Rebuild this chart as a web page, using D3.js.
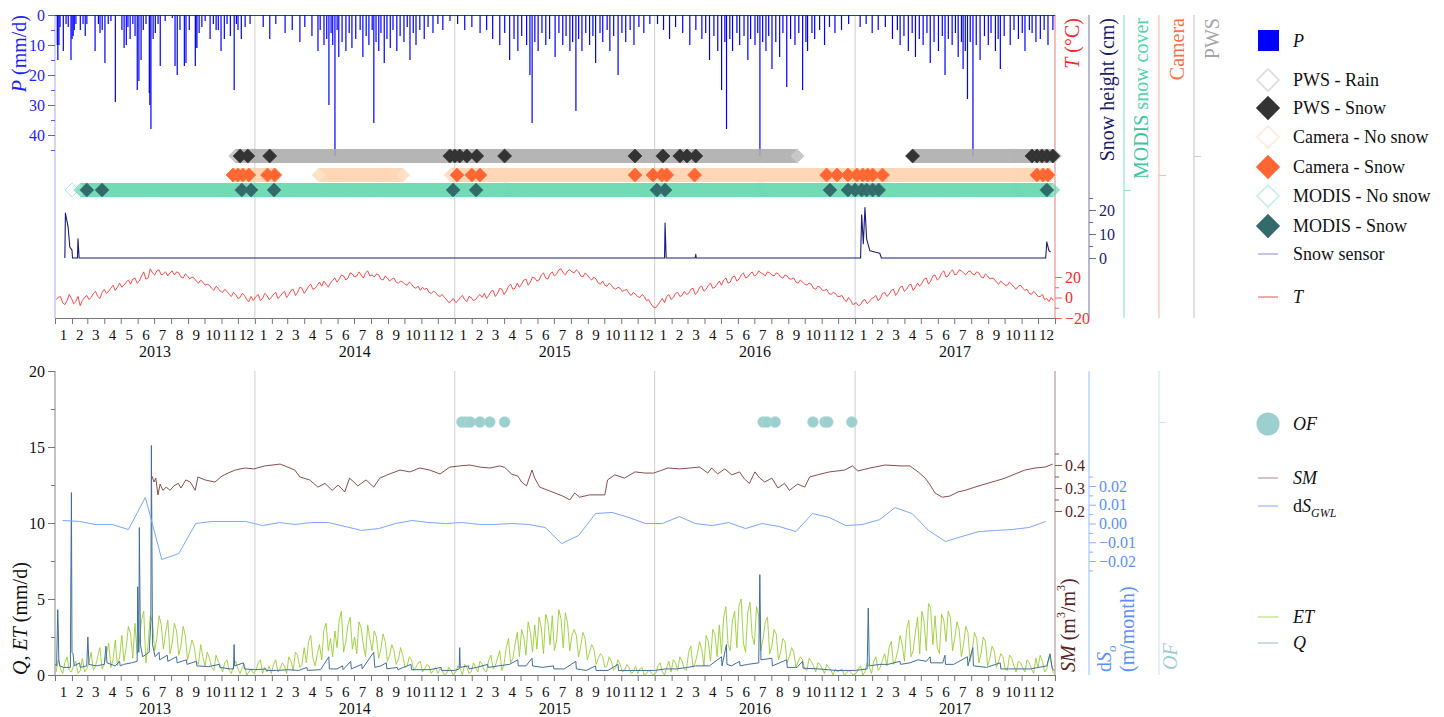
<!DOCTYPE html>
<html>
<head>
<meta charset="utf-8">
<script src="https://cdn.jsdelivr.net/npm/d3@7"></script>
<style>
  body { margin: 0; background: #fff; }
  svg text { font-family: "Liberation Serif", "DejaVu Serif", serif; }
</style>
</head>
<body>
<div id="chart"></div>
<script>
// ---------- data ----------
var years = [2013, 2014, 2015, 2016, 2017];
var FONT = '"Liberation Serif", "DejaVu Serif", serif';

// daily precipitation events, [day of year, mm]
var precip2013 = [[4,10],[5,15],[7,10],[9,4],[15,12],[20,3],[24,4],[29,15],[31,8],[33,7],[35,5],[38,3],[46,5],[51,3],[55,7],[58,3],[73,12],[79,3],[82,6],[86,5],[91,16],[97,3],[102,2],[110,29],[122,5],[126,11],[130,10],[133,4],[137,8],[142,3],[146,7],[150,25],[153,22],[157,15],[161,5],[166,3],[172,26],[173,30],[175,38],[179,8],[183,6],[188,3],[192,17],[201,2],[214,1],[219,17],[223,20],[228,5],[236,17],[239,16],[245,5],[256,17],[257,11],[259,11],[263,6],[268,4],[274,2],[283,8],[289,3],[294,5],[298,5],[303,12],[309,8],[314,3],[320,7],[327,25],[331,3],[334,5],[340,8],[347,4],[356,3]];
var precip2014 = [[15,4],[27,8],[38,3],[55,6],[68,5],[82,9],[91,4],[104,7],[115,12],[119,5],[126,10],[131,8],[135,30],[139,6],[142,10],[146,47],[150,5],[153,14],[159,9],[166,12],[172,6],[177,11],[184,8],[192,5],[197,14],[203,7],[208,10],[214,5],[217,36],[221,9],[226,12],[230,6],[236,16],[241,8],[247,11],[252,5],[259,12],[265,7],[272,9],[278,4],[283,15],[289,6],[294,10],[301,5],[309,8],[316,4],[325,6],[334,3],[343,5],[356,2]];
var precip2015 = [[5,3],[18,5],[31,4],[46,6],[58,5],[69,8],[82,10],[91,6],[100,15],[108,8],[115,12],[122,7],[131,10],[137,20],[141,36],[146,9],[152,12],[159,6],[166,10],[173,8],[183,14],[190,6],[197,10],[203,7],[210,12],[215,9],[221,32],[226,8],[232,12],[239,6],[246,10],[252,7],[257,16],[265,6],[270,9],[278,5],[283,12],[290,7],[298,20],[305,6],[312,9],[320,5],[327,10],[336,4],[345,6],[356,3]];
var precip2016 = [[5,3],[16,5],[27,8],[38,4],[51,6],[64,10],[75,5],[86,8],[93,6],[100,15],[108,7],[115,12],[122,25],[128,9],[131,38],[137,8],[142,12],[150,6],[155,10],[163,7],[170,15],[175,8],[183,10],[188,6],[192,47],[197,9],[203,12],[208,7],[214,18],[221,9],[228,14],[234,6],[241,24],[248,8],[256,10],[263,6],[270,25],[276,9],[279,12],[287,6],[292,8],[301,5],[310,10],[319,4],[329,6],[341,5],[354,3]];
var precip2017 = [[9,4],[20,3],[31,6],[42,5],[55,4],[68,8],[77,5],[82,10],[89,7],[97,12],[104,6],[110,14],[117,8],[124,10],[131,6],[137,16],[144,9],[152,12],[159,7],[164,20],[170,8],[177,10],[183,6],[188,14],[194,9],[197,18],[201,12],[205,28],[210,9],[215,47],[221,10],[228,15],[236,7],[243,10],[248,6],[256,12],[261,8],[265,18],[272,7],[283,10],[290,5],[298,8],[305,6],[310,12],[318,5],[323,6],[330,9],[338,8],[345,5],[352,10],[361,5]];

// air temperature (deg C), one value per 4 days from 3 January
var temp2013 = [-2,0,1,-5,-7,-3,3,-1, -6,-4,1,-8,-3,0,2, -2,0,4,6,1,-1,5,8, 4,6,9,12,7,10,14, 10,12,15,17,13,18,19,14, 16,21,25,18,19,28,24,22, 26,27,22,23,25,21,24,26, 22,25,24,20,19,23,21,18, 20,19,16,14,17,15,12, 13,12,9,7,11,9,6,5, 8,6,3,1,5,3,-1, 0,4,2,-2,-4,1,-3];
var temp2014 = [1,3,-3,-1,4,2,-2,0, 3,5,-1,1,4,6,0, 3,7,8,2,5,10,9,4, 7,11,13,8,9,12,15, 11,16,13,10,14,17,19,15, 18,22,21,17,19,24,23,20, 21,25,22,19,24,26,21,22, 20,23,22,18,17,21,19,16, 18,19,15,14,16,15,13, 12,15,13,10,9,11,7,10, 8,9,5,4,6,5,2, 1,3,0,-2,-5,-4,-1];
var temp2015 = [-5,-3,0,2,-2,-4,1,0, -3,-2,1,3,0,4,-1, 2,6,7,1,4,9,8,3, 6,11,13,8,9,14,10, 13,17,18,12,15,20,19,16, 17,22,24,19,18,23,25,21, 23,27,28,24,22,26,27,25, 24,27,25,21,20,24,22,19, 17,20,18,14,13,16,12, 11,14,12,9,8,10,9,6, 7,8,4,2,5,3,1, 0,3,1,-3,-2,-6,-9];
var temp2016 = [-10,-7,-4,-1,-5,1,3,-2, 0,4,5,1,2,6,3, 4,8,9,3,5,10,11,6, 8,12,14,9,10,13,16, 12,17,19,14,15,20,21,16, 18,22,24,19,20,23,25,21, 22,26,24,23,21,25,24,22, 21,24,23,20,19,22,21,18, 18,19,15,14,17,15,13, 12,14,13,9,8,11,10,7, 7,8,4,3,5,4,1, 1,2,-2,-4,0,-3,-7];
var temp2017 = [-5,-8,-7,-3,-2,-6,-4,-1, 0,2,-3,-1,4,5,1, 3,7,8,2,5,10,11,6, 8,12,13,7,10,14,11, 14,18,19,13,16,21,22,17, 19,24,26,20,21,25,27,22, 23,27,26,24,22,25,26,23, 22,25,24,20,19,23,21,18, 19,18,15,13,16,14,12, 12,15,13,10,8,11,12,9, 7,8,4,3,6,4,1, 1,3,-2,-1,-4,0,-3];

// snow sensor height (cm)
var snowSensor = [["2013-01-19",0],["2013-01-20",18.7],["2013-01-25",12.9],["2013-01-28",4.6],["2013-02-01",3.3],["2013-02-02",0],["2013-02-11",0],["2013-02-12",8],["2013-02-14",0],["2013-02-15",0],
  ["2016-01-19",0],["2016-01-20",14.6],["2016-01-22",0],["2016-03-15",0],["2016-03-16",1.5],["2016-03-17",0],
  ["2017-01-11",0],["2017-01-13",18],["2017-01-16",6],["2017-01-19",21],["2017-01-22",8],["2017-01-28",3],["2017-02-15",2],["2017-02-18",0],
  ["2017-12-15",0],["2017-12-17",6.7],["2017-12-21",3],["2017-12-24",2.5]];

// observation periods and snow days per source
var pwsPeriods = [["2013-11-27","2016-09-17"],["2017-04-16","2017-12-31"]];
var pwsSnow = ["2013-12-05","2013-12-19","2014-01-28","2014-12-23","2015-01-01","2015-01-10","2015-01-23","2015-02-10","2015-04-02","2015-11-26","2016-01-16","2016-02-16","2016-02-29","2016-03-16","2017-04-16","2017-11-20","2017-11-29","2017-12-08","2017-12-17","2017-12-28"];
var cameraPeriods = [["2013-11-22","2014-02-08"],["2014-04-28","2014-09-28"],["2014-12-25","2017-12-23"]];
var cameraSnow = ["2013-11-22","2013-12-01","2013-12-10","2013-12-21","2014-01-24","2014-02-06","2015-01-05","2015-02-01","2015-02-16","2015-11-26","2015-12-29","2016-01-14","2016-01-23","2016-03-14","2016-11-10","2016-11-29","2016-12-19","2017-01-04","2017-01-15","2017-01-24","2017-02-02","2017-02-20","2017-11-29","2017-12-10","2017-12-19"];
var modisPeriods = [["2013-02-01","2013-02-01"],["2013-02-17","2017-12-28"]];
var modisSnow = ["2013-02-28","2013-03-28","2013-12-08","2013-12-25","2014-02-05","2014-12-29","2015-02-09","2016-01-05","2016-01-20","2016-11-16","2016-12-19","2017-01-01","2017-01-13","2017-01-22","2017-02-02","2017-02-13","2017-12-17"];

// evapotranspiration (mm/d), one value per 4 days from 3 January
var et2013 = [0.2,1.0,0.4,0.1,0.8,1.2,0.3,0.2, 0.6,0.9,0.1,0.3,1.1,0.2,0.4, 0.8,1.5,0.3,0.6,1.2,1.8,0.4,0.7, 1.4,2.1,0.5,1.0,2.3,0.6,1.2, 2.6,0.9,1.8,3.2,2.7,1.1,3.4,1.4, 2.2,3.6,4.2,0.8,2.0,3.9,3.5,1.6, 2.4,3.9,3.3,1.7,2.8,3.6,1.4,2.1, 3.4,2.9,1.3,1.9,3.2,2.6,1.0,1.6, 2.3,1.9,0.9,0.7,2.0,1.2,0.6, 1.5,1.1,0.5,0.3,1.3,0.9,0.6,0.2, 0.8,1.0,0.3,0.1,0.6,0.9,0.4, 0.1,0.5,0.7,0.0,0.2,0.4,0.1];
var et2014 = [0.3,0.8,1.0,0.1,0.5,0.2,0.6,0.1, 0.7,1.0,0.2,0.4,0.8,0.6,0.1, 1.2,0.9,0.3,1.5,1.3,0.5,0.7,1.8, 0.8,2.2,2.6,1.1,0.6,1.4,2.0, 1.0,3.0,3.4,1.6,2.4,1.2,2.9,1.8, 3.6,4.2,1.5,2.2,3.3,3.8,1.7,2.5, 1.4,3.5,3.1,2.0,1.2,3.3,2.4,1.6, 2.9,2.5,1.1,1.7,2.7,2.2,0.9,1.3, 2.0,1.6,0.7,1.0,1.8,1.3,0.5, 0.6,1.2,1.0,0.3,0.5,0.8,0.9,0.2, 0.4,0.7,0.6,0.1,0.3,0.5,0.1, 0.4,0.3,0.0,0.1,0.5,0.3,0.0];
var et2015 = [0.2,0.6,0.4,0.0,0.7,0.5,0.1,0.2, 0.8,0.5,0.2,0.9,0.7,0.3,0.2, 1.0,1.3,0.4,0.6,1.1,1.6,0.3,0.7, 1.8,2.4,0.8,1.1,2.0,2.8,1.2, 3.0,2.5,1.3,3.5,2.8,1.5,3.3,1.7, 3.8,3.1,1.4,4.0,3.5,2.0,3.9,1.6, 2.3,4.3,3.7,1.8,4.1,3.4,1.6,2.6, 3.0,2.6,1.2,1.9,2.8,2.4,1.0,1.5, 2.0,1.7,0.7,1.1,1.4,1.2,0.5, 0.6,1.2,0.9,0.3,0.5,1.0,0.7,0.2, 0.3,0.7,0.5,0.1,0.2,0.6,0.1, 0.4,0.5,0.0,0.1,0.3,0.2,0.0];
var et2016 = [0.1,0.6,0.8,0.2,0.0,0.5,0.9,0.2, 1.0,0.8,0.3,1.2,0.9,0.4,0.3, 1.5,1.9,0.5,0.8,1.4,2.2,1.7,0.6, 2.6,2.2,0.9,3.0,2.7,1.2,3.3, 1.4,3.8,4.5,2.0,1.6,3.6,4.2,1.8, 4.6,5.0,2.1,1.5,4.1,4.8,2.6,2.0, 4.5,3.9,1.6,2.4,3.5,3.8,1.4,1.9, 3.0,2.7,1.0,1.5,2.4,2.2,0.8,1.2, 1.8,1.5,0.5,0.9,1.2,1.0,0.4, 0.3,1.1,0.9,0.6,0.2,0.8,0.7,0.4, 0.1,0.7,0.5,0.3,0.0,0.4,0.2, 0.3,0.4,0.0,0.1,0.3,0.2,0.0];
var et2017 = [0.1,0.4,0.6,0.0,0.2,0.8,0.5,0.1, 0.9,1.2,0.3,0.5,1.0,1.4,0.6, 1.8,2.2,0.7,1.0,1.6,2.6,2.0,0.9, 3.0,3.6,1.2,1.6,2.8,3.8,1.4, 4.2,3.5,1.6,4.7,4.4,2.0,3.9,1.8, 1.4,4.0,3.6,2.2,4.2,3.8,1.6,2.4, 3.5,3.0,1.2,2.0,3.2,2.8,0.9,1.6, 2.8,2.4,0.8,1.4,2.5,2.2,0.6,1.1, 1.9,1.6,0.5,0.9,1.4,1.2,0.4, 0.3,1.3,1.1,0.6,0.2,0.9,0.8,0.5, 0.2,1.0,0.8,0.4,0.1,1.1,0.5, 1.3,0.9,0.2,0.4,1.2,0.8,0.1];

// discharge (mm/d), [day of year, value]
var q2013 = [[0,0.7],[3,0.6],[5,4.3],[6,3.0],[7,1.0],[9,0.6],[15,0.5],[28,0.5],[30,12.0],[31,1.5],[33,1.4],[35,0.6],[45,0.8],[46,0.5],[58,0.6],[60,2.5],[62,0.7],[75,0.6],[90,0.7],[93,1.9],[95,0.8],[110,0.6],[118,0.9],[119,0.6],[125,0.7],[140,0.8],[150,0.9],[151,5.8],[153,1.5],[154,9.7],[156,2.0],[160,1.2],[172,1.5],[175,3.5],[176,15.1],[178,2.0],[183,1.2],[190,1.5],[191,1.0],[205,1.3],[206,0.9],[222,1.2],[223,0.8],[240,1.0],[241,0.7],[258,0.9],[259,0.6],[280,0.55],[300,0.7],[301,0.5],[320,0.4],[326,0.4],[327,2.0],[328,0.6],[344,0.8],[346,0.4],[364,0.35]];
var q2014 = [[0,0.35],[20,0.4],[21,0.3],[40,0.3],[60,0.35],[80,0.3],[95,0.5],[96,0.3],[120,0.35],[135,1.2],[136,0.4],[150,0.4],[160,0.6],[161,0.35],[175,0.9],[176,0.4],[195,0.7],[196,0.4],[217,1.5],[219,0.5],[230,0.6],[240,0.8],[241,0.4],[260,0.5],[261,0.35],[285,0.7],[286,0.35],[320,0.35],[340,0.5],[341,0.3],[364,0.3]];
var q2015 = [[0,0.3],[8,0.4],[9,1.8],[10,0.5],[25,0.6],[26,0.4],[40,0.5],[60,0.7],[61,0.5],[80,0.6],[100,0.7],[115,1.0],[116,0.6],[130,0.6],[141,1.1],[142,0.6],[160,0.5],[180,0.6],[181,0.4],[200,0.4],[221,0.9],[222,0.4],[240,0.3],[257,0.6],[258,0.3],[280,0.3],[298,0.7],[299,0.3],[320,0.3],[364,0.3]];
var q2016 = [[0,0.3],[20,0.4],[40,0.4],[60,0.5],[75,0.6],[100,0.6],[122,1.2],[123,0.6],[131,2.0],[132,0.7],[140,0.6],[155,0.9],[156,0.6],[170,0.7],[190,0.8],[192,6.6],[194,1.0],[214,1.1],[215,0.6],[241,1.0],[242,0.5],[260,0.5],[270,0.9],[271,0.45],[300,0.4],[330,0.3],[365,0.3]];
var q2017 = [[0,0.3],[22,0.4],[24,4.4],[26,0.6],[45,0.7],[60,0.7],[82,0.9],[83,0.7],[100,0.8],[115,1.0],[130,0.9],[137,1.2],[138,0.8],[160,0.8],[164,1.3],[165,0.7],[180,0.7],[205,1.2],[206,0.6],[215,1.8],[216,0.6],[240,0.5],[265,0.8],[266,0.4],[280,0.4],[320,0.4],[350,0.6],[356,1.4],[360,0.4],[364,0.3]];

// soil moisture (m3/m3), [day of year, value]
var sm2013 = [[177,0.352],[181,0.326],[184,0.343],[188,0.27],[192,0.317],[197,0.29],[203,0.304],[210,0.29],[217,0.309],[225,0.32],[230,0.30],[239,0.335],[247,0.326],[256,0.29],[261,0.348],[274,0.335],[292,0.326],[305,0.352],[316,0.365],[329,0.378],[347,0.387],[363,0.383]];
var sm2014 = [[18,0.396],[46,0.404],[73,0.378],[82,0.348],[100,0.335],[115,0.304],[128,0.32],[141,0.29],[152,0.313],[164,0.283],[173,0.343],[188,0.309],[203,0.335],[217,0.304],[228,0.343],[246,0.361],[265,0.378],[283,0.37],[301,0.387],[319,0.378],[338,0.361],[356,0.391]];
var sm2015 = [[9,0.396],[27,0.4],[46,0.391],[64,0.387],[82,0.396],[91,0.39],[104,0.36],[115,0.352],[122,0.326],[131,0.309],[141,0.378],[146,0.343],[155,0.304],[170,0.29],[183,0.278],[197,0.265],[210,0.248],[219,0.278],[228,0.26],[246,0.27],[274,0.27],[279,0.335],[292,0.357],[310,0.343],[329,0.37],[347,0.365],[363,0.365]];
var sm2016 = [[9,0.374],[24,0.387],[46,0.383],[64,0.387],[82,0.391],[97,0.365],[104,0.387],[115,0.361],[128,0.383],[141,0.357],[155,0.37],[164,0.339],[173,0.32],[183,0.37],[192,0.343],[201,0.326],[214,0.343],[225,0.30],[237,0.32],[246,0.29],[261,0.317],[274,0.304],[283,0.348],[297,0.357],[319,0.37],[347,0.378],[361,0.396]];
var sm2017 = [[5,0.374],[27,0.387],[55,0.40],[82,0.396],[100,0.396],[115,0.37],[128,0.343],[137,0.313],[146,0.278],[159,0.26],[173,0.265],[188,0.283],[201,0.29],[219,0.304],[237,0.317],[256,0.33],[274,0.343],[292,0.361],[310,0.378],[329,0.387],[347,0.391],[361,0.404]];

// monthly groundwater storage change (m), mid-month, Jan 2013 .. Dec 2017
var dsGwl = [0.0016,0.0011,-0.0005,-0.0005,-0.0032,0.0139,-0.0192,-0.0160,0,0.0011,0.0011,0.0011,
  -0.0011,0.0005,-0.0005,0.0005,0.0005,-0.0016,-0.0037,-0.0027,0,0.0016,0.0005,0,
  0.0005,-0.0005,-0.0005,0,-0.0005,-0.0021,-0.0107,-0.0064,0.0053,0.0059,0.0032,0,
  0,0.0037,0,-0.0011,0.0005,-0.0027,0,-0.0016,-0.0043,0.0053,0.0032,-0.0011,
  -0.0005,0.0021,0.0085,0.0053,-0.0037,-0.0096,-0.0069,-0.0043,-0.0037,-0.0032,-0.0021,0.0011];

// overland flow days
var ofDates = ["2015-01-14","2015-01-21","2015-01-29","2015-02-16","2015-03-06","2015-04-02","2016-07-17","2016-07-24","2016-08-08","2016-10-16","2016-11-07","2016-11-12","2016-12-26"];

// ---------- helpers ----------
var parse = d3.utcParse("%Y-%m-%d");
function dayOf(year, doy) { return new Date(Date.UTC(year, 0, 1) + doy * 864e5); }
function byYear(list, fn) {
  var out = [];
  list.forEach(function(arr, i) { arr.forEach(function(d, j) { out.push(fn(years[i], d, j)); }); });
  return out;
}
function daysIn(periods) {
  var out = [];
  periods.forEach(function(p) { d3.utcDay.range(parse(p[0]), d3.utcDay.offset(parse(p[1]), 1)).forEach(function(d) { out.push(d); }); });
  return out;
}

var precipData = byYear([precip2013, precip2014, precip2015, precip2016, precip2017], function(y, d) { return { date: dayOf(y, d[0]), v: d[1] }; });
var tempData = byYear([temp2013, temp2014, temp2015, temp2016, temp2017], function(y, v, j) { return { date: dayOf(y, j * 4 + 2), v: v }; });
var etData = byYear([et2013, et2014, et2015, et2016, et2017], function(y, v, j) { return { date: dayOf(y, j * 4 + 2), v: v }; });
var qData = byYear([q2013, q2014, q2015, q2016, q2017], function(y, d) { return { date: dayOf(y, d[0]), v: d[1] }; });
var smData = byYear([sm2013, sm2014, sm2015, sm2016, sm2017], function(y, d) { return { date: dayOf(y, d[0]), v: d[1] }; });
var dsData = dsGwl.map(function(v, i) { return { date: new Date(Date.UTC(2013, i, 15)), v: v }; });
var snowData = snowSensor.map(function(d) { return { date: parse(d[0]), v: d[1] }; });

// ---------- layout ----------
var W = 1444, H = 717;
var svg = d3.select('#chart').append('svg').attr('width', W).attr('height', H);

var x = d3.scaleUtc().domain([new Date(Date.UTC(2013, 0, 1)), new Date(Date.UTC(2018, 0, 1))]).range([55, 1055]);
var top0 = 15, top1 = 318, bot0 = 371, bot1 = 675;

var yP = d3.scaleLinear().domain([0, 101]).range([top0, top1]);
var yT = d3.scaleLinear().domain([-20, 20]).range([318, 277]);
var ySnow = d3.scaleLinear().domain([0, 20]).range([258, 210]);
var yQ = d3.scaleLinear().domain([0, 20]).range([bot1, bot0]);
var ySM = d3.scaleLinear().domain([0.2, 0.4]).range([511, 465]);
var yDS = d3.scaleLinear().domain([-0.02, 0.02]).range([561, 486]);
var lanes = { pws: 156, camera: 175, modis: 190 };

var yearStarts = [2014, 2015, 2016, 2017].map(function(y) { return new Date(Date.UTC(y, 0, 1)); });

// year grid lines
[[top0, top1], [bot0, bot1]].forEach(function(r) {
  svg.append('g').selectAll('line').data(yearStarts).enter().append('line')
    .attr('x1', function(d) { return x(d); }).attr('x2', function(d) { return x(d); })
    .attr('y1', r[0]).attr('y2', r[1])
    .attr('stroke', '#cfcfcf').attr('stroke-width', 1);
});

// vertical axis with major/minor ticks and a full-height line
function vAxis(xPos, scale, majors, minors, right, lineColor, tickColor, textColor, fmt, span) {
  var g = svg.append('g').attr('transform', 'translate(' + xPos + ',0)');
  g.append('line').attr('y1', span[0]).attr('y2', span[1]).attr('stroke', lineColor).attr('stroke-width', 1.2);
  var ax = (right ? d3.axisRight(scale) : d3.axisLeft(scale)).tickValues(majors).tickSize(7).tickPadding(3).tickFormat(fmt);
  var mg = g.append('g').call(ax);
  mg.select('.domain').remove();
  mg.selectAll('line').attr('stroke', tickColor);
  mg.selectAll('text').attr('fill', textColor).attr('font-family', FONT).style('font-size', '16px');
  if (minors.length) {
    var mn = g.append('g').call((right ? d3.axisRight(scale) : d3.axisLeft(scale)).tickValues(minors).tickSize(4).tickFormat(''));
    mn.select('.domain').remove();
    mn.selectAll('line').attr('stroke', tickColor);
  }
  return g;
}

function vLabel(xc, yAnchor, anchor, parts, size) {
  var t = svg.append('text')
    .attr('transform', 'translate(' + xc + ',' + yAnchor + ') rotate(-90)')
    .attr('text-anchor', anchor).attr('dominant-baseline', 'central')
    .attr('font-family', FONT)
    .style('font-size', (size || 20) + 'px');
  parts.forEach(function(p) {
    var s = t.append('tspan').text(p.t).attr('fill', p.c);
    if (p.i) s.style('font-style', 'italic');
    if (p.sup) s.attr('baseline-shift', 'super').style('font-size', '12px');
    if (p.sub) s.attr('baseline-shift', 'sub').style('font-size', '13px');
  });
  return t;
}

// ---------- top panel ----------
vAxis(55, yP, [0, 10, 20, 30, 40], [5, 15, 25, 35, 45], false, '#b4b8ff', '#5a5aff', '#1f1fff', d3.format('d'), [top0, top1]);
vAxis(1055, yT, [-20, 0, 20], [-10, 10], true, '#ff8a8a', '#ff6060', '#ff2a2a', d3.format('d'), [top0, top1]);
vAxis(1089, ySnow, [0, 10, 20], [5, 15, 25], true, '#8a8ab0', '#6a6a9a', '#1c1c6a', d3.format('d'), [top0, top1]);
vAxis(1124, d3.scaleLinear().domain([0, 1]).range([lanes.modis, lanes.modis]), [0], [], true, '#8ae6c8', '#8ae6c8', 'none', function() { return ''; }, [top0, top1]);
vAxis(1159, d3.scaleLinear().domain([0, 1]).range([lanes.camera, lanes.camera]), [0], [], true, '#ffbcaa', '#ffbcaa', 'none', function() { return ''; }, [top0, top1]);
vAxis(1194, d3.scaleLinear().domain([0, 1]).range([lanes.pws, lanes.pws]), [0], [], true, '#cccccc', '#cccccc', 'none', function() { return ''; }, [top0, top1]);

vLabel(19, 15, 'end', [{ t: 'P', c: '#1f1fff', i: true }, { t: ' (mm/d)', c: '#1f1fff' }]);
vLabel(1072, 18, 'end', [{ t: 'T', c: '#ff2a2a', i: true }, { t: ' (°C)', c: '#ff2a2a' }]);
vLabel(1107, 18, 'end', [{ t: 'Snow height (cm)', c: '#1c1c6a' }]);
vLabel(1141, 18, 'end', [{ t: 'MODIS ', c: '#3cc79a' }, { t: 'snow cover', c: '#4fd6a8' }]);
vLabel(1177, 18, 'end', [{ t: 'Camera', c: '#ff7043' }]);
vLabel(1212, 18, 'end', [{ t: 'PWS', c: '#a6a6a6' }]);

// precipitation bars hanging from the top
svg.append('line').attr('x1', 55).attr('x2', 1055).attr('y1', top0 + 0.5).attr('y2', top0 + 0.5).attr('stroke', '#2a2aff').attr('stroke-width', 1);
svg.append('g').selectAll('rect').data(precipData).enter().append('rect')
  .attr('x', function(d) { return x(d.date) - 0.5; })
  .attr('y', top0)
  .attr('width', 1.2)
  .attr('height', function(d) { return yP(d.v) - top0; })
  .attr('fill', '#0000ff');

// observation diamonds
var diamond = 'M0,-7L7,0L0,7L-7,0Z';
function laneDays(days, yLane, stroke) {
  svg.append('g').selectAll('path').data(days).enter().append('path')
    .attr('d', diamond)
    .attr('transform', function(d) { return 'translate(' + x(d) + ',' + yLane + ')'; })
    .attr('fill', 'none').attr('stroke', stroke).attr('stroke-width', 1).attr('stroke-opacity', 0.5);
}
function laneSnow(dates, yLane, fill) {
  svg.append('g').selectAll('path').data(dates.map(parse)).enter().append('path')
    .attr('d', diamond)
    .attr('transform', function(d) { return 'translate(' + x(d) + ',' + yLane + ')'; })
    .attr('fill', fill).attr('stroke', d3.color(fill).brighter(0.4)).attr('stroke-width', 0.8);
}
laneDays(daysIn(pwsPeriods), lanes.pws, '#adadad');
laneSnow(pwsSnow, lanes.pws, '#333333');
laneDays(daysIn(cameraPeriods), lanes.camera, '#ffd4b0');
laneSnow(cameraSnow, lanes.camera, '#ff6633');
laneDays(daysIn(modisPeriods), lanes.modis, '#62d8ae');
laneSnow(modisSnow, lanes.modis, '#336b6b');

// snow sensor and temperature lines
function drawLine(data, yScale, color, width) {
  svg.append('path').datum(data)
    .attr('d', d3.line().x(function(d) { return x(d.date); }).y(function(d) { return yScale(d.v); }))
    .attr('fill', 'none').attr('stroke', color).attr('stroke-width', width).attr('stroke-linejoin', 'round');
}
drawLine(snowData, ySnow, '#1c1c7a', 1.1);
drawLine(tempData, yT, '#ff2020', 0.8);

// time axes
function timeAxis(yBase) {
  var g = svg.append('g').attr('transform', 'translate(0,' + yBase + ')');
  var ax = d3.axisBottom(x).ticks(d3.utcMonth.every(1)).tickSize(6).tickFormat('');
  g.call(ax);
  g.select('.domain').attr('stroke', '#777');
  g.selectAll('line').attr('stroke', '#777');
  var months = d3.utcMonth.range(x.domain()[0], x.domain()[1]);
  g.selectAll('text.m').data(months).enter().append('text')
    .attr('x', function(d) { return (x(d) + x(d3.utcMonth.offset(d, 1))) / 2; })
    .attr('y', 17).attr('text-anchor', 'middle').attr('dominant-baseline', 'central')
    .attr('font-family', FONT).style('font-size', '15px').attr('fill', '#111')
    .text(function(d) { return d.getUTCMonth() + 1; });
  g.selectAll('text.y').data(years).enter().append('text')
    .attr('x', function(y) { return (x(new Date(Date.UTC(y, 0, 1))) + x(new Date(Date.UTC(y + 1, 0, 1)))) / 2; })
    .attr('y', 33).attr('text-anchor', 'middle').attr('dominant-baseline', 'central')
    .attr('font-family', FONT).style('font-size', '16px').attr('fill', '#111')
    .text(function(y) { return y; });
}
timeAxis(top1);
timeAxis(bot1);

// ---------- bottom panel ----------
vAxis(55, yQ, [0, 5, 10, 15, 20], [2.5, 7.5, 12.5, 17.5], false, '#9a9a9a', '#777', '#111', d3.format('d'), [bot0, bot1]);
vAxis(1055, ySM, [0.2, 0.3, 0.4], [0.25, 0.35, 0.45], true, '#b79c9c', '#8a5a5a', '#5a2222', d3.format('.1f'), [bot0, bot1]);
vAxis(1089, yDS, [-0.02, -0.01, 0, 0.01, 0.02], [-0.025, -0.015, -0.005, 0.005, 0.015, 0.025], true, '#aac8ff', '#8ab2ff', '#5b90ff', d3.format('.2f'), [bot0, bot1]);
vAxis(1159, d3.scaleLinear().domain([0, 1]).range([422, 422]), [0], [], true, '#cfe9e9', '#cfe9e9', 'none', function() { return ''; }, [bot0, bot1]);

vLabel(20, 675, 'start', [{ t: 'Q', c: '#111', i: true }, { t: ', ', c: '#111' }, { t: 'ET', c: '#111', i: true }, { t: ' (mm/d)', c: '#111' }]);
vLabel(1068, 672, 'start', [{ t: 'SM', c: '#5a2222', i: true }, { t: ' (m', c: '#5a2222' }, { t: '3', c: '#5a2222', sup: true }, { t: '/m', c: '#5a2222' }, { t: '3', c: '#5a2222', sup: true }, { t: ')', c: '#5a2222' }]);
vLabel(1104, 672, 'start', [{ t: 'd', c: '#5b90ff' }, { t: 'S', c: '#5b90ff', i: true }, { t: 'o', c: '#5b90ff', i: true, sub: true }]);
vLabel(1127, 672, 'start', [{ t: '(m/month)', c: '#5b90ff' }]);
vLabel(1170, 670, 'start', [{ t: 'OF', c: '#9dcfcf', i: true }]);

drawLine(etData, yQ, '#9acd32', 0.9);
drawLine(qData, yQ, '#3f6e9e', 1);
drawLine(smData, ySM, '#7a3b3b', 0.9);
drawLine(dsData, yDS, '#7aa6ff', 1);

svg.append('g').selectAll('circle').data(ofDates.map(parse)).enter().append('circle')
  .attr('cx', function(d) { return x(d); }).attr('cy', 422).attr('r', 5.5)
  .attr('fill', '#9dcfcf').attr('stroke', '#b6dede').attr('stroke-width', 0.5);

// ---------- legends ----------
var lx = 1268, tx = 1293;
function legText(y, parts) {
  var t = svg.append('text').attr('x', tx).attr('y', y).attr('dominant-baseline', 'central')
    .attr('font-family', FONT).style('font-size', '18px').attr('fill', '#111');
  parts.forEach(function(p) {
    var s = t.append('tspan').text(p.t);
    if (p.i) s.style('font-style', 'italic');
    if (p.sub) s.attr('baseline-shift', 'sub').style('font-size', '12px');
  });
}
var bigDiamond = 'M0,-11L11,0L0,11L-11,0Z';
svg.append('rect').attr('x', lx - 10).attr('y', 30).attr('width', 21).attr('height', 21).attr('fill', '#0000ff');
legText(41, [{ t: 'P', i: true }]);
var legDiamonds = [
  { y: 80, t: 'PWS - Rain', fill: 'none', stroke: '#dcdcdc' },
  { y: 108, t: 'PWS - Snow', fill: '#333333', stroke: '#333333' },
  { y: 137, t: 'Camera - No snow', fill: 'none', stroke: '#ffe8da' },
  { y: 167, t: 'Camera - Snow', fill: '#ff6633', stroke: '#ff6633' },
  { y: 196, t: 'MODIS - No snow', fill: 'none', stroke: '#c6f0e2' },
  { y: 226, t: 'MODIS - Snow', fill: '#336b6b', stroke: '#336b6b' }
];
legDiamonds.forEach(function(d) {
  svg.append('path').attr('d', bigDiamond).attr('transform', 'translate(' + lx + ',' + d.y + ')')
    .attr('fill', d.fill).attr('stroke', d.stroke).attr('stroke-width', 1.6);
  legText(d.y, [{ t: d.t }]);
});
function legLine(y, color, parts) {
  svg.append('line').attr('x1', lx - 10).attr('x2', lx + 10).attr('y1', y).attr('y2', y).attr('stroke', color).attr('stroke-width', 1.2);
  legText(y, parts);
}
legLine(254, '#9a9ae0', [{ t: 'Snow sensor' }]);
legLine(297, '#f07070', [{ t: 'T', i: true }]);

svg.append('circle').attr('cx', lx).attr('cy', 424).attr('r', 11.5).attr('fill', '#9dcfcf');
legText(424, [{ t: 'OF', i: true }]);
legLine(478, '#c09a9a', [{ t: 'SM', i: true }]);
legLine(506, '#96b8ff', [{ t: 'd' }, { t: 'S', i: true }, { t: 'GWL', i: true, sub: true }]);
legLine(617, '#b8e07a', [{ t: 'ET', i: true }]);
legLine(643, '#a9bfd6', [{ t: 'Q', i: true }]);
</script>
</body>
</html>
